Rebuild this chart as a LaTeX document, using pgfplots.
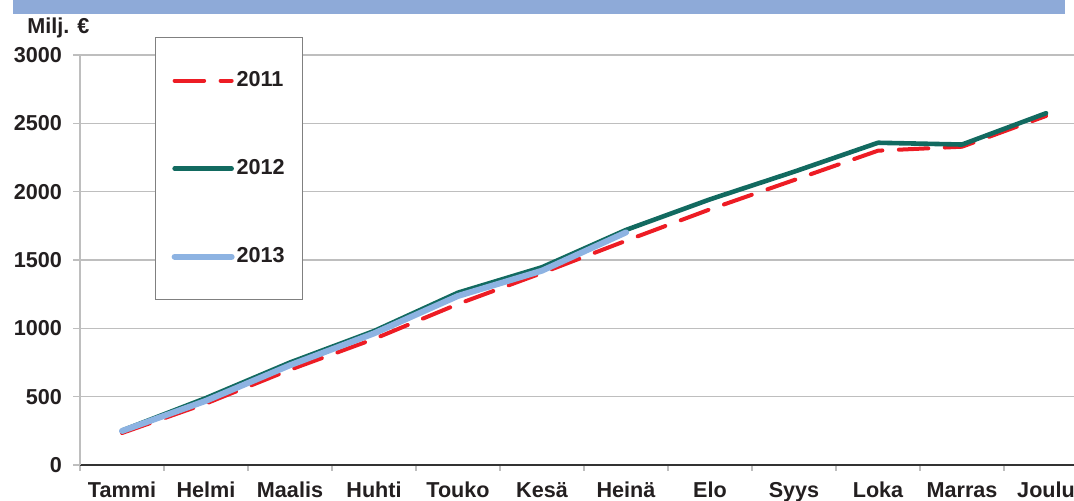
\documentclass[border=0pt]{standalone}
\usepackage{fontspec}
\setmainfont{Liberation Sans}
\usepackage{pgfplots}
\pgfplotsset{compat=1.18}
\definecolor{band}{RGB}{142,170,216}
\definecolor{r11}{RGB}{237,28,36}
\definecolor{g12}{RGB}{18,106,96}
\definecolor{b13}{RGB}{141,179,226}
\definecolor{txt}{RGB}{35,31,32}
\definecolor{grd}{RGB}{190,190,190}
\newcommand\lf{\fontsize{10.8}{13}\selectfont\bfseries}
\begin{document}
\begin{tikzpicture}
\useasboundingbox (0,0) rectangle (537pt,250pt);
\fill[band] (6.5pt,243pt) rectangle (532.5pt,250pt);
\node[anchor=base west, inner sep=0pt, font=\lf, text=txt] at (13.5pt,233.5pt) {Milj. €};
\begin{axis}[
  at={(40pt,17.5pt)}, anchor=south west,
  scale only axis, width=497pt, height=205pt,
  xmin=-0.5, xmax=11.333, ymin=0, ymax=3000,
  xtick={0,...,11},
  xticklabels={Tammi,Helmi,Maalis,Huhti,Touko,Kesä,Heinä,Elo,Syys,Loka,Marras,Joulu},
  minor xtick={-0.5,0.5,...,10.5},
  ytick={0,500,...,3000},
  axis lines*=left,
  tick align=outside,
  major tick length=3.5pt, minor tick length=2.8pt,
  major x tick style={draw=none},
  minor x tick style={grd, line width=0.6pt},
  major y tick style={grd, line width=0.6pt},
  ymajorgrids, major grid style={grd, line width=0.6pt},
  x axis line style={black!80, line width=0.8pt},
  y axis line style={grd, line width=0.6pt},
  /pgf/number format/assume math mode=true,
  /pgf/number format/1000 sep={},
  ticklabel style={font=\lf, text=txt},
  xticklabel style={text height=7.8pt, text depth=0pt, yshift=-1.25pt},
  yticklabel style={xshift=-2pt},
  legend style={at={(0.0755,1.044)}, anchor=north west, draw=black!50, line width=0.6pt,
    inner xsep=8pt, inner ysep=16pt, row sep=33pt, font=\lf, text=txt,
    nodes={inner sep=1pt}},
  legend cell align=left,
  legend image code/.code={\draw[#1] (0pt,0pt) -- (28.5pt,0pt);},
]
\addplot[r11, line width=2pt, dash pattern=on 14.75pt off 8.25pt, line cap=round, line join=round] coordinates {
(0,234) (1,450) (2,697) (3,922) (4,1178) (5,1405) (6,1641) (7,1871) (8,2085) (9,2300) (10,2329) (11,2554)};
\addplot[g12, line width=2.3pt, line cap=round, line join=round] coordinates {
(0,252) (1,490) (2,750) (3,980) (4,1261) (5,1447) (6,1720) (7,1944) (8,2146) (9,2358) (10,2345) (11,2574)};
\addplot[b13, line width=3pt, line cap=round, line join=round] coordinates {
(0,249) (1,470) (2,730) (3,963) (4,1237) (5,1422) (6,1702)};
\legend{2011,2012,2013}
\end{axis}
\end{tikzpicture}
\end{document}
